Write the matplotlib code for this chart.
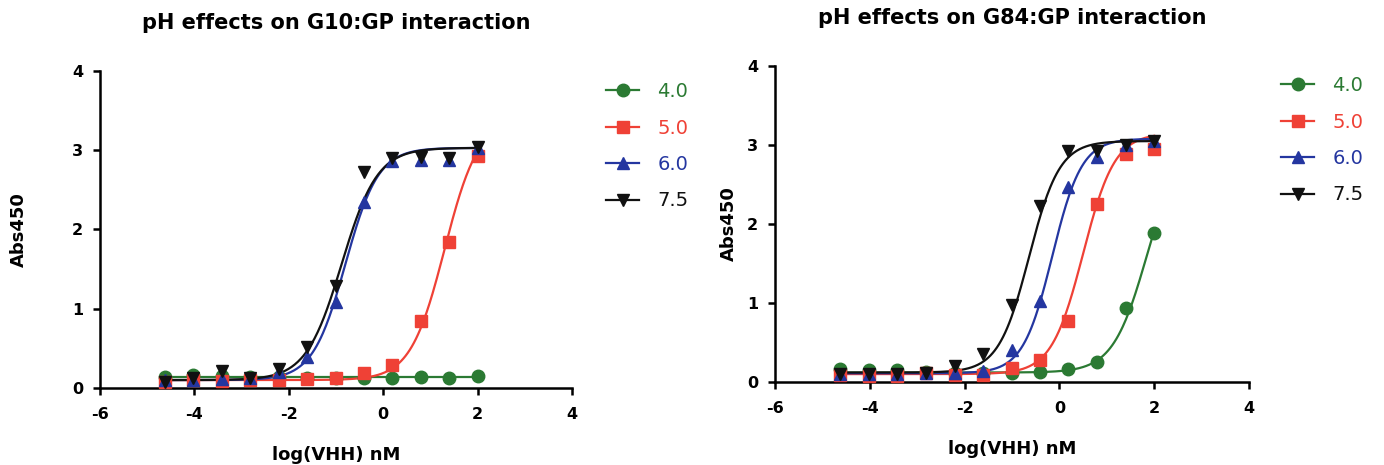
import numpy as np
import matplotlib.pyplot as plt
from matplotlib.lines import Line2D

# ── DATA ──────────────────────────────────────────────────────
LOG_X = [-4.62, -4.02, -3.42, -2.82, -2.21, -1.61, -1.01, -0.41, 0.19, 0.80, 1.40, 2.00]
PH_LABELS = ["4.0", "5.0", "6.0", "7.5"]

# G10:GP, Abs450 per pH
G10_PH40 = [0.14, 0.16, 0.15, 0.14, 0.14, 0.13, 0.13, 0.12, 0.13, 0.14, 0.13, 0.15]
G10_PH50 = [0.08, 0.10, 0.09, 0.10, 0.10, 0.11, 0.12, 0.19, 0.29, 0.85, 1.84, 2.93]
G10_PH60 = [0.10, 0.10, 0.11, 0.12, 0.20, 0.39, 1.08, 2.35, 2.87, 2.88, 2.88, 3.03]
G10_PH75 = [0.08, 0.12, 0.21, 0.13, 0.24, 0.52, 1.29, 2.72, 2.90, 2.92, 2.90, 3.04]

# G84:GP, Abs450 per pH
G84_PH40 = [0.16, 0.15, 0.15, 0.13, 0.12, 0.11, 0.11, 0.13, 0.17, 0.25, 0.94, 1.88]
G84_PH50 = [0.09, 0.08, 0.08, 0.11, 0.09, 0.09, 0.18, 0.28, 0.77, 2.25, 2.89, 2.95]
G84_PH60 = [0.10, 0.10, 0.10, 0.11, 0.12, 0.14, 0.40, 1.02, 2.47, 2.85, 3.00, 3.05]
G84_PH75 = [0.10, 0.10, 0.10, 0.12, 0.20, 0.35, 0.98, 2.23, 2.93, 2.92, 3.00, 3.05]

# 4PL fit parameters: (bottom, top, logEC50, hill)
G10_FITS = [(0.14, 0.14, 0.00, 1.00),
            (0.10, 3.40, 1.30, 1.20),
            (0.10, 3.03, -0.80, 1.25),
            (0.10, 3.03, -0.88, 1.15)]
G84_FITS = [(0.12, 3.10, 1.85, 1.20),
            (0.10, 3.15, 0.50, 1.30),
            (0.11, 3.08, -0.15, 1.40),
            (0.12, 3.05, -0.64, 1.35)]

# ── STYLE ─────────────────────────────────────────────────────
COLORS = ["#2B7A33", "#EF4136", "#2436A0", "#111111"]
MARKERS = ["o", "s", "^", "v"]
MSIZES = [9, 8, 9, 9]

plt.rcParams["font.family"] = "DejaVu Sans"
plt.rcParams["axes.unicode_minus"] = False


def four_pl(x, bottom, top, logec50, hill):
    return bottom + (top - bottom) / (1 + 10 ** ((logec50 - x) * hill))


def draw_panel(ax, series, fits, title, legend_anchor, ylabelpad):
    xs = np.array(LOG_X)
    xfit = np.linspace(xs.min(), xs.max(), 300)
    for fit, col in zip(fits, COLORS):
        ax.plot(xfit, four_pl(xfit, *fit), color=col, lw=1.6, zorder=2)
    for ys, col, mk, ms in zip(series, COLORS, MARKERS, MSIZES):
        ax.plot(xs, ys, mk, color=col, ms=ms, mec=col, zorder=3, clip_on=False)

    ax.set_xlim(-6, 4)
    ax.set_ylim(0, 4)
    ax.set_xticks([-6, -4, -2, 0, 2, 4])
    ax.set_yticks([0, 1, 2, 3, 4])
    for s in ["top", "right"]:
        ax.spines[s].set_visible(False)
    for s in ["left", "bottom"]:
        ax.spines[s].set_linewidth(1.8)
    ax.tick_params(direction="out", length=5, width=1.8, labelsize=11.5)
    ax.tick_params(axis="x", pad=9)
    ax.tick_params(axis="y", pad=7)
    for lab in ax.get_xticklabels() + ax.get_yticklabels():
        lab.set_fontweight("bold")
    ax.set_xlabel("log(VHH) nM", fontsize=13, fontweight="bold", labelpad=17)
    ax.set_ylabel("Abs450", fontsize=13, fontweight="bold", labelpad=ylabelpad)
    ax.set_title(title, fontsize=15, fontweight="bold", pad=30)

    handles = [Line2D([], [], color=c, marker=m, ms=ms, lw=1.6)
               for c, m, ms in zip(COLORS, MARKERS, MSIZES)]
    leg = ax.legend(handles, PH_LABELS, loc="upper left",
                    bbox_to_anchor=legend_anchor, bbox_transform=ax.figure.transFigure,
                    frameon=False, fontsize=14, handlelength=1.7,
                    handletextpad=0.95, labelspacing=0.9, borderpad=0, borderaxespad=0)
    for txt, c in zip(leg.get_texts(), COLORS):
        txt.set_color(c)


fig = plt.figure(figsize=(13.84, 4.65), dpi=100)
W, H = 1384, 465
ax1 = fig.add_axes([100 / W, 1 - 388 / H, 472 / W, 317 / H])
ax2 = fig.add_axes([775 / W, 1 - 382 / H, 474 / W, 316 / H])

draw_panel(ax1, [G10_PH40, G10_PH50, G10_PH60, G10_PH75], G10_FITS,
           "pH effects on G10:GP interaction", (606 / W, 1 - 82 / H), 32)
draw_panel(ax2, [G84_PH40, G84_PH50, G84_PH60, G84_PH75], G84_FITS,
           "pH effects on G84:GP interaction", (1281 / W, 1 - 76 / H), 7)

fig.savefig("out.png", dpi=100)
